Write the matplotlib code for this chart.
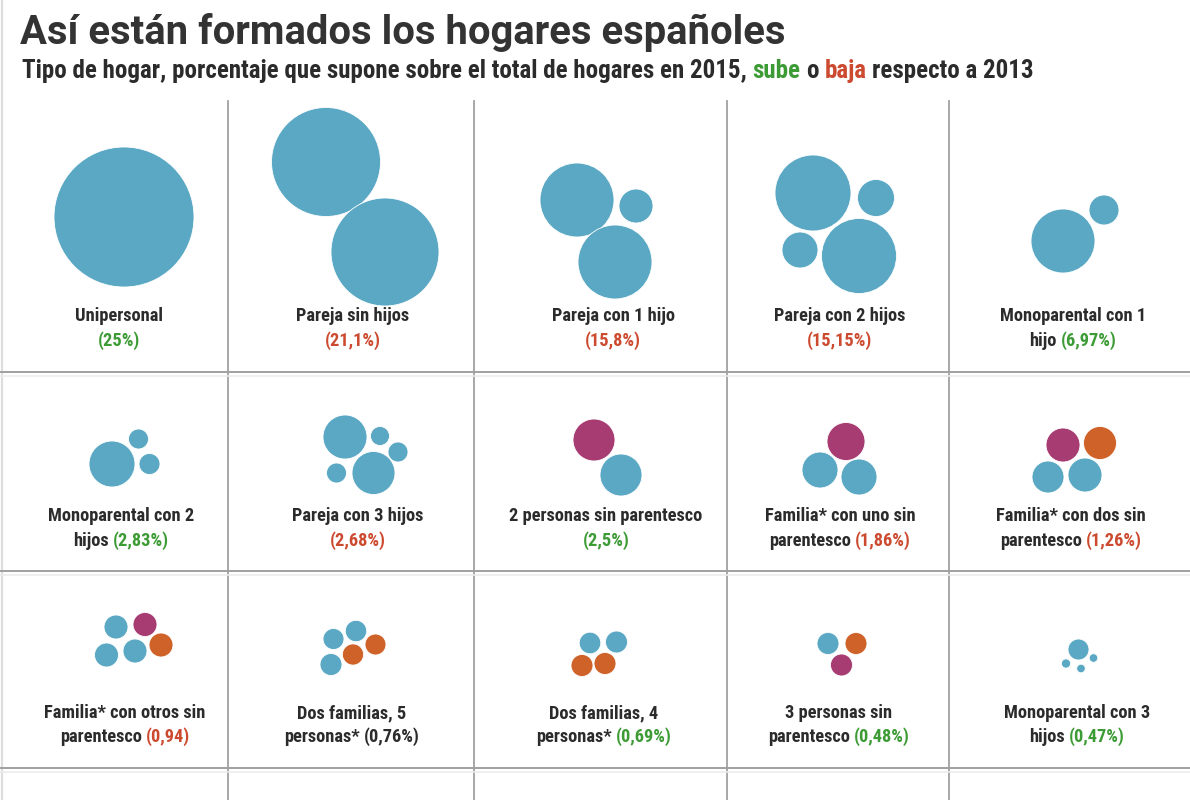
import matplotlib
matplotlib.use("Agg")
import matplotlib.pyplot as plt
from matplotlib import font_manager
from matplotlib.patches import Circle

# Datos: tipo de hogar, % sobre el total en 2015 y evolución respecto a 2013
tipos = [
    "Unipersonal", "Pareja sin hijos", "Pareja con 1 hijo", "Pareja con 2 hijos",
    "Monoparental con 1\nhijo",
    "Monoparental con 2\nhijos", "Pareja con 3 hijos", "2 personas sin parentesco",
    "Familia* con uno sin\nparentesco", "Familia* con dos sin\nparentesco",
    "Familia* con otros sin\nparentesco", "Dos familias, 5\npersonas*",
    "Dos familias, 4\npersonas*", "3 personas sin\nparentesco", "Monoparental con 3\nhijos",
]
porcentajes = ["25%", "21,1%", "15,8%", "15,15%", "6,97%",
               "2,83%", "2,68%", "2,5%", "1,86%", "1,26%",
               "0,94", "0,76%", "0,69%", "0,48%", "0,47%"]
tendencia = ["sube", "baja", "baja", "baja", "sube",
             "sube", "baja", "sube", "baja", "baja",
             "baja", "igual", "sube", "sube", "sube"]

# Pictograma de cada hogar: (dx, dy, radio, tipo de persona) desde la esquina de la celda
# f = familia, o = sin parentesco, n = otra familia / otros
personas = [
    [(121, 116, 70, "f")],
    [(98, 61, 54.5, "f"), (157, 151, 54, "f")],
    [(103, 99, 37, "f"), (162, 105, 17, "f"), (141, 161, 37, "f")],
    [(86, 92, 38, "f"), (149, 97, 18.5, "f"), (73, 149, 18, "f"), (132, 155, 37.5, "f")],
    [(114, 140, 32, "f"), (155, 109, 15, "f")],
    [(109, 92, 23, "f"), (135.5, 67, 10, "f"), (146.5, 92, 10.5, "f")],
    [(117, 65, 22, "f"), (152, 64, 9.5, "f"), (170, 80, 10, "f"),
     (108.5, 101, 10, "f"), (145.5, 101, 21.5, "f")],
    [(120, 68, 21, "o"), (147, 103, 21, "f")],
    [(119, 69.5, 19, "o"), (93, 98, 18, "f"), (132, 105, 18, "f")],
    [(114, 73, 17, "o"), (151, 71, 16.5, "n"), (99, 105, 16, "f"), (136, 103, 17, "f")],
    [(113, 56, 12, "f"), (142, 53.5, 12, "o"), (158, 74, 12, "n"),
     (103.5, 84, 12, "f"), (132, 80, 12, "f")],
    [(105.5, 68, 10.5, "f"), (128, 60, 10.7, "f"), (147.5, 73.5, 10.5, "n"),
     (125, 83.5, 10.6, "n"), (103, 93.5, 11, "f")],
    [(116, 72, 10.8, "f"), (142.5, 71, 11, "f"), (108, 94.5, 11, "n"), (131, 92.5, 11, "n")],
    [(101, 72.5, 11, "f"), (129, 72.5, 11, "n"), (114.5, 94, 11, "o")],
    [(129.5, 78.5, 10.5, "f"), (117, 92.5, 4.6, "f"), (132, 97.5, 4.3, "f"), (144.5, 87, 4.3, "f")],
]

col_bordes = [3, 228, 474, 727, 949, 1190]
fila_bordes = [101, 372, 571, 768]
texto_y = [(316, 341), (516, 541), (713, 737)]
etiqueta_dx = [116, 125, 139, 113, 124, 118, 130, 132, 113, 122, 122, 124, 130, 112, 128]

color_persona = {"f": "#5aa8c3", "o": "#a63c72", "n": "#cf6228"}
color_tendencia = {"sube": "#3d9b35", "baja": "#cc4a2f", "igual": "#2b2b2b"}
oscuro = "#2b2b2b"

fuentes = {f.name for f in font_manager.fontManager.ttflist}
estrecha = next((f for f in ["Roboto Condensed", "Liberation Sans Narrow"] if f in fuentes), "Roboto")

fig = plt.figure(figsize=(11.9, 8), dpi=100)
ax = fig.add_axes([0, 0, 1, 1])
ax.set_xlim(0, 1190)
ax.set_ylim(800, 0)
ax.axis("off")
renderer = fig.canvas.get_renderer()


def ancho(texto, familia, size):
    t = ax.text(0, 0, texto, family=familia, weight="bold", fontsize=size)
    w = t.get_window_extent(renderer).width
    t.remove()
    return w


def ajustar(texto, familia, objetivo):
    return 20 * objetivo / ancho(texto, familia, 20)


def linea(x, y, partes, familia, size, ha="center"):
    esp = ancho("x x", familia, size) - ancho("xx", familia, size)
    textos = [ax.text(0, y, s, color=c, family=familia, weight="bold", fontsize=size,
                      ha="left", va="center") for s, c in partes]
    anchos = [t.get_window_extent(renderer).width for t in textos]
    total = sum(anchos) + esp * (len(textos) - 1)
    x0 = x - total / 2 if ha == "center" else x
    for t, w in zip(textos, anchos):
        t.set_x(x0)
        x0 += w + esp


# Título y subtítulo
titulo = "Así están formados los hogares españoles"
ax.text(20, 33, titulo, family="Roboto", weight="bold", color="#333333", va="center",
        fontsize=ajustar(titulo, "Roboto", 763))
sub = [("Tipo de hogar, porcentaje que supone sobre el total de hogares en 2015,", oscuro),
       ("sube", color_tendencia["sube"]), ("o", oscuro),
       ("baja", color_tendencia["baja"]), ("respecto a 2013", oscuro)]
sub_size = ajustar(" ".join(s for s, _ in sub), estrecha, 1008)
linea(22, 71, sub, estrecha, sub_size, ha="left")

# Rejilla
for x in col_bordes[1:-1]:
    ax.plot([x, x], [fila_bordes[0], 800], color="#a0a0a0", lw=1.3)
ax.plot([2, 2], [0, 800], color="#dddddd", lw=1.5)
for y in fila_bordes[1:]:
    ax.plot([0, 1190], [y, y], color="#a0a0a0", lw=1.4)
    ax.plot([0, 1190], [y + 4, y + 4], color="#ececec", lw=1.2)

size_et = ajustar("Monoparental con 2", estrecha, 147)

for i, tipo in enumerate(tipos):
    fila, col = divmod(i, 5)
    x0, y0 = col_bordes[col], fila_bordes[fila]
    for dx, dy, r, k in personas[i]:
        ax.add_patch(Circle((x0 + dx, y0 + dy), r, facecolor=color_persona[k],
                            edgecolor="white", lw=0.6))
    pct = "(" + porcentajes[i] + ")"
    cpct = color_tendencia[tendencia[i]]
    xc = x0 + etiqueta_dx[i]
    y1, y2 = texto_y[fila]
    if "\n" in tipo:
        l1, l2 = tipo.split("\n")
        linea(xc, y1, [(l1, oscuro)], estrecha, size_et)
        linea(xc, y2, [(l2, oscuro), (pct, cpct)], estrecha, size_et)
    else:
        linea(xc, y1, [(tipo, oscuro)], estrecha, size_et)
        linea(xc, y2, [(pct, cpct)], estrecha, size_et)

fig.savefig("out.png", dpi=100, facecolor="white")
